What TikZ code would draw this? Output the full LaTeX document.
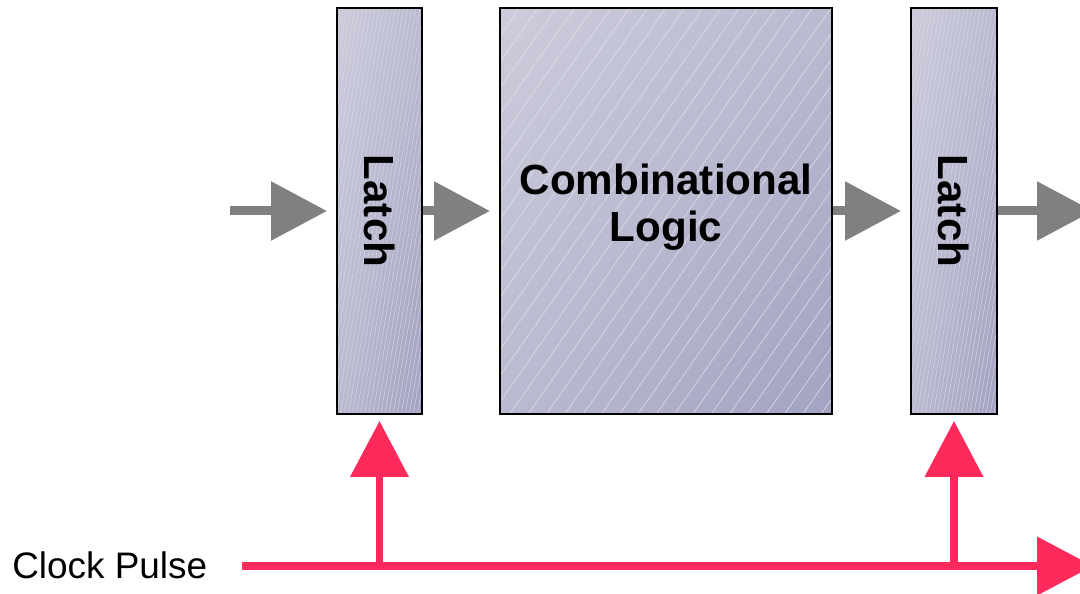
\documentclass[tikz,border=0pt]{standalone}
\usepackage{fontspec}
\setmainfont{Liberation Sans}
\usepackage{graphicx}
\usepackage{tikz}
\usetikzlibrary{
    arrows.meta,
    shadings,
    patterns.meta
}

\definecolor{boxlight}{RGB}{204,204,220}
\definecolor{boxmid}{RGB}{186,186,208}
\definecolor{boxdark}{RGB}{162,162,194}
\definecolor{flowgray}{RGB}{128,128,128}
\definecolor{clkred}{RGB}{255,42,92}

\tikzset{
    stage/.style={draw=black, line width=1.1pt, inner sep=0pt,
        minimum height=8.12cm, shade,
        upper left=boxlight, upper right=boxmid,
        lower left=boxmid, lower right=boxdark,
        font=\fontsize{24}{26.4}\selectfont\bfseries},
    latchbox/.style={stage, minimum width=1.7cm,
        postaction={pattern={Lines[angle=80,distance=0.8mm,line width=0.25pt]},
            pattern color=white!45!boxmid},
        postaction={draw=black, line width=1.1pt}},
    logicbox/.style={stage, minimum width=6.64cm, align=center,
        postaction={pattern={Lines[angle=55,distance=3mm,line width=0.3pt]},
            pattern color=white!60!boxmid},
        postaction={draw=black, line width=1.1pt}},
    flow/.style={draw=flowgray, line width=0.18cm, shorten >=0.18cm,
        -{Triangle[length=1.12cm,width=1.14cm]}},
    clock/.style={draw=clkred, line width=0.15cm,
        -{Triangle[length=1.12cm,width=1.14cm]}}
}

\begin{document}
\begin{tikzpicture}[scale=1]

% Frame
\path[use as bounding box, clip] (0,0) rectangle (21.6,11.86);

% Latches and logic
\node[latchbox] (latchA) at (7.59,7.64) {\rotatebox{-90}{Latch}\hspace{0.06cm}};
\node[logicbox] (logic) at (13.32,7.64) {Combinational\\Logic\\[-0.6cm]};
\node[latchbox, minimum width=1.72cm] (latchB) at (19.08,7.64) {\rotatebox{-90}{Latch}\hspace{0.06cm}};

% Data path
\coordinate (datain) at (4.6,7.64);
\coordinate (dataout) at (21.86,7.64);
\draw[flow] (datain) -- (latchA);
\draw[flow] (latchA) -- (logic);
\draw[flow] (logic) -- (latchB);
\draw[flow, shorten >=0pt] (latchB) -- (dataout);

% Clock
\node[anchor=base west, inner sep=0pt, font=\fontsize{21}{24}\selectfont] (clklabel) at (0.24,0.30) {Clock Pulse};
\coordinate (clkstart) at (4.84,0.54);
\coordinate (clkend) at (21.86,0.54);
\draw[clock] (clkstart) -- (clkend);
\draw[clock, shorten >=0.12cm] (latchA |- clkstart) -- (latchA.south);
\draw[clock, shorten >=0.12cm] (latchB |- clkstart) -- (latchB.south);

\end{tikzpicture}
\end{document}
